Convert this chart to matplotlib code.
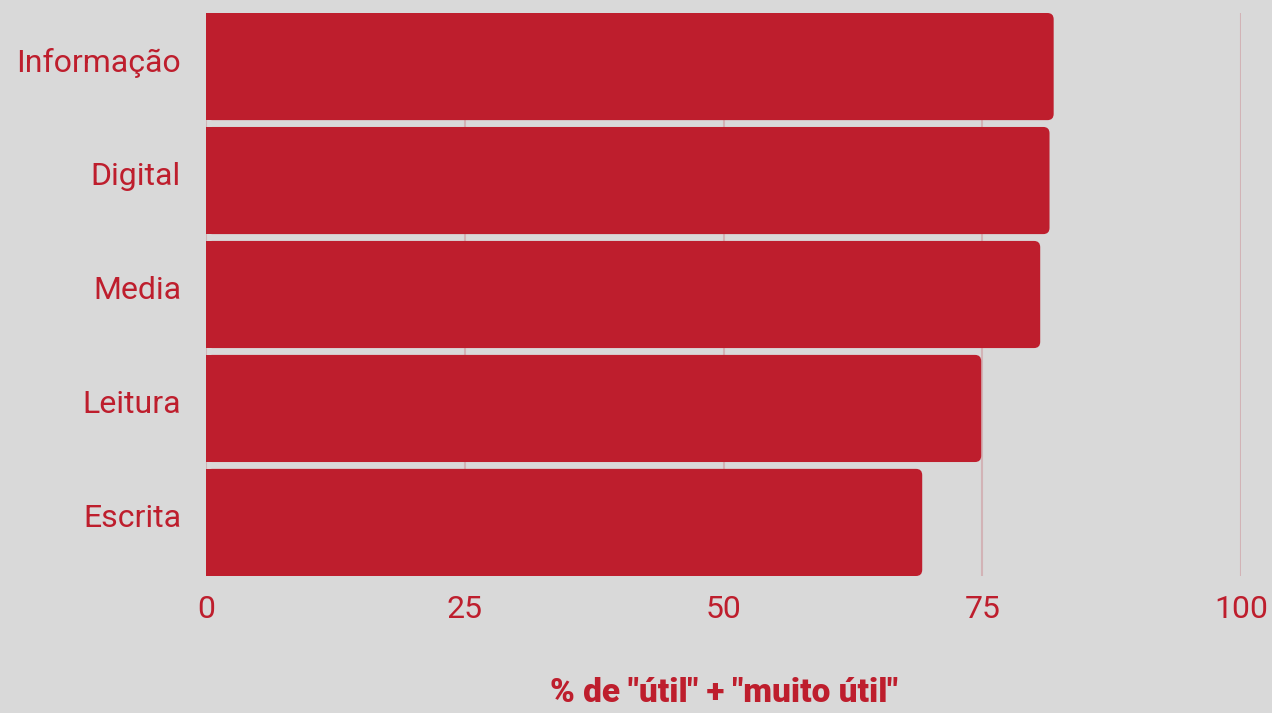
import matplotlib.pyplot as plt
import matplotlib.transforms as mtransforms
from matplotlib.patches import FancyBboxPatch, Rectangle

# --- dados ---
categorias = ["Informação", "Digital", "Media", "Leitura", "Escrita"]
valores = [81.9, 81.5, 80.6, 74.9, 69.2]
ticks_x = [0, 25, 50, 75, 100]
rotulo_x = '% de "útil" + "muito útil"'

vermelho = "#BE1E2D"
fundo = "#D9D9D9"
grelha = "#D2B3B6"

plt.rcParams["font.family"] = ["Roboto", "DejaVu Sans"]

fig = plt.figure(figsize=(12.72, 7.13), dpi=100, facecolor=fundo)
ax = fig.add_axes([206 / 1272, 1 - 576 / 713, (1241 - 206) / 1272, (576 - 13) / 713])
ax.set_facecolor(fundo)

altura = 0.94
barras = ax.barh(categorias, valores, height=altura, color="none")

# barras com cantos arredondados so do lado direito
for b in barras:
    x0, y0 = b.get_x(), b.get_y()
    w, h = b.get_width(), b.get_height()
    r = 0.6
    ax.add_patch(FancyBboxPatch((x0, y0), w, h,
                                boxstyle=f"round,pad=0,rounding_size={r}",
                                mutation_aspect=0.092,
                                facecolor=vermelho, edgecolor="none",
                                zorder=3))
    ax.add_patch(Rectangle((x0, y0), w / 2, h, facecolor=vermelho,
                           edgecolor="none", zorder=3))

ax.set_xlim(0, 100)
ax.set_ylim(len(categorias) - 1 + altura / 2, -altura / 2)
ax.set_xticks(ticks_x)
ax.set_xticklabels([str(t) for t in ticks_x])

ax.grid(axis="x", color=grelha, linewidth=1.5, zorder=0)
ax.grid(axis="y", visible=False)
ax.set_axisbelow(True)
for s in ax.spines.values():
    s.set_visible(False)

ax.tick_params(axis="both", length=0, colors=vermelho, labelsize=23)
ax.tick_params(axis="x", pad=14)
ax.tick_params(axis="y", pad=18)
desloca = mtransforms.ScaledTranslation(0, 5 / 72, fig.dpi_scale_trans)
for lbl in ax.get_yticklabels():
    lbl.set_transform(lbl.get_transform() + desloca)

ax.set_xlabel(rotulo_x, color=vermelho, fontsize=24, fontweight="black",
              labelpad=38)

fig.savefig("out.png", dpi=100, facecolor=fundo)
